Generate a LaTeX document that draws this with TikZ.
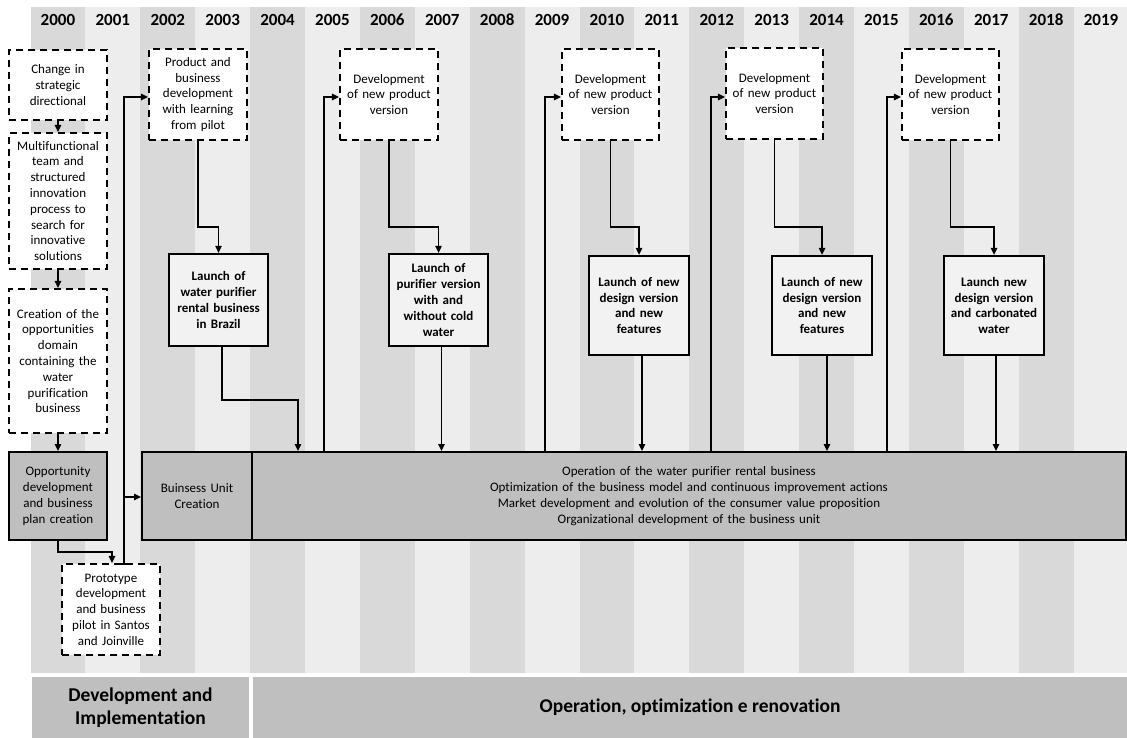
\documentclass[tikz,border=0pt]{standalone}
\usepackage{fontspec}
\setmainfont[Ligatures=NoCommon]{Carlito}
\usetikzlibrary{arrows.meta,calc}
\definecolor{coldark}{HTML}{D9D9D9}
\definecolor{collight}{HTML}{EDEDED}
\definecolor{boxgray}{HTML}{BFBFBF}
\definecolor{launchfill}{HTML}{F2F2F2}
\begin{document}
\begin{tikzpicture}[x=1pt,y=-1pt,
  txt/.style={font=\fontsize{13}{15.8}\selectfont},
  arr/.style={line width=1.3pt,-{Triangle[length=7pt,width=6.5pt]}},
  dbox/.style={draw,line width=2.2pt,dash pattern=on 7pt off 5pt,fill=white,inner sep=0pt,align=center,txt},
  sbox/.style={draw,line width=2pt,fill=boxgray,inner sep=0pt,align=center,txt},
  lbox/.style={draw,line width=2.3pt,fill=launchfill,inner sep=0pt,align=center,font=\bfseries\fontsize{13}{15.8}\selectfont},
  yr/.style={font=\bfseries\fontsize{17}{20}\selectfont,inner sep=0pt},
  phase/.style={fill=boxgray,inner sep=0pt,align=center,font=\bfseries\fontsize{19.5}{23.5}\selectfont}
]
\useasboundingbox (0,0) rectangle (1127,738);
\fill[white] (0,0) rectangle (1127,738);
% year columns
\foreach \i in {0,2,...,18} \fill[coldark] ({30.5+54.9*\i},7) rectangle ++(54.9,666);
\foreach \i in {1,3,...,19} \fill[collight] ({30.5+54.9*\i},7) rectangle ++(54.9,666);
\foreach \i in {0,...,19} {
  \pgfmathtruncatemacro\yy{2000+\i}
  \node[yr] (y\yy) at ({30.5+54.9*(\i+0.5)},20) {\yy};
}
% phases
\node[phase,minimum width=217,minimum height=61] (ph1) at (140.5,707.5) {Development and\\Implementation};
\node[phase,minimum width=874,minimum height=61] (ph2) at (690,707.5) {Operation, optimization e renovation};

% left column boxes
\node[dbox,minimum width=98,minimum height=70,text width=94] (chg) at (58,85) {Change in\\strategic\\directional};
\node[dbox,minimum width=98,minimum height=136,text width=94] (multi) at (58,201) {Multifunctional\\team and\\structured\\innovation\\process to\\search for\\innovative\\solutions};
\node[dbox,minimum width=98,minimum height=144,text width=94] (create) at (58,361) {Creation of the\\opportunities\\domain\\containing the\\water\\purification\\business};
\node[sbox,minimum width=98,minimum height=88,text width=94] (opp) at (58,496) {Opportunity\\development\\and business\\plan creation};
\node[dbox,minimum width=98,minimum height=91,text width=94] (proto) at (111,609.5) {Prototype\\development\\and business\\pilot in Santos\\and Joinville};

% main operation boxes
\node[sbox,minimum width=110,minimum height=88,text width=106] (bu) at (197,496) {Buinsess Unit\\Creation};
\node[sbox,minimum width=874,minimum height=88,text width=860] (op) at (689,496) {Operation of the water purifier rental business\\Optimization of the business model and continuous improvement actions\\Market development and evolution of the consumer value proposition\\Organizational development of the business unit};

% top development boxes
\node[dbox,minimum width=98,minimum height=91,text width=94] (prod) at (198,94.5) {Product and\\business\\development\\with learning\\from pilot};
\node[dbox,minimum width=98,minimum height=91,text width=94] (dev1) at (389,94.5) {Development\\of new product\\version};
\node[dbox,minimum width=97,minimum height=91,text width=94] (dev2) at (610.5,94.5) {Development\\of new product\\version};
\node[dbox,minimum width=97,minimum height=91,text width=94] (dev3) at (774.5,93.5) {Development\\of new product\\version};
\node[dbox,minimum width=97,minimum height=91,text width=94] (dev4) at (950.5,94.5) {Development\\of new product\\version};

% launch boxes
\node[lbox,minimum width=99,minimum height=92,text width=96] (l1) at (218.5,300) {Launch of\\water purifier\\rental business\\in Brazil};
\node[lbox,minimum width=99,minimum height=92,text width=96] (l2) at (438.5,300) {Launch of\\purifier version\\with and\\without cold\\water};
\node[lbox,minimum width=100,minimum height=99,text width=96] (l3) at (639,305.5) {Launch of new\\design version\\and new\\features};
\node[lbox,minimum width=100,minimum height=99,text width=96] (l4) at (822,305.5) {Launch of new\\design version\\and new\\features};
\node[lbox,minimum width=100,minimum height=99,text width=96] (l5) at (994,305.5) {Launch new\\design version\\and carbonated\\water};

% left column connectors
\draw[arr] (chg) -- (multi);
\draw[arr] (multi) -- (create);
\draw[arr] (create) -- (opp);
\coordinate (k1) at (112,552);
\draw[arr] (opp.south) |- (k1) -- (k1 |- proto.north);
\coordinate (ty) at (124,97);
\coordinate (tb) at (124,497);
\draw[arr] (ty |- proto.north) -- (ty) -- (ty -| prod.west);
\draw[line width=1.3pt] (118,564) -- (130,564);
\draw[arr] (tb) -- (tb -| bu.west);

% development -> launch
\draw[arr] (prod.south) -- ++(0,86) -| (l1.north);
\draw[arr] (dev1.south) -- ++(0,86) -| (l2.north);
\draw[arr] (dev2.south) -- ++(0,86) -| (l3.north);
\draw[arr] (dev3.south) -- ++(0,87) -| (l4.north);
\draw[arr] (dev4.south) -- ++(0,86) -| (l5.north);

% launch -> operation
\coordinate (p1) at (298,400);
\draw[arr] ([xshift=3.5pt]l1.south) |- (p1) -- (p1 |- op.north);
\draw[arr] ([xshift=3pt]l2.south) -- ([xshift=3pt]l2.south |- op.north);
\draw[arr] ([xshift=3pt]l3.south) -- ([xshift=3pt]l3.south |- op.north);
\draw[arr] ([xshift=5pt]l4.south) -- ([xshift=5pt]l4.south |- op.north);
\draw[arr] ([xshift=2pt]l5.south) -- ([xshift=2pt]l5.south |- op.north);

% operation -> next development
\coordinate (u1) at (324,97);
\coordinate (u2) at (545,97);
\coordinate (u3) at (711,97);
\coordinate (u4) at (887,97);
\draw[arr] (u1 |- op.north) -- (u1) -- (u1 -| dev1.west);
\draw[arr] (u2 |- op.north) -- (u2) -- (u2 -| dev2.west);
\draw[arr] (u3 |- op.north) -- (u3) -- (u3 -| dev3.west);
\draw[arr] (u4 |- op.north) -- (u4) -- (u4 -| dev4.west);
\end{tikzpicture}
\end{document}
